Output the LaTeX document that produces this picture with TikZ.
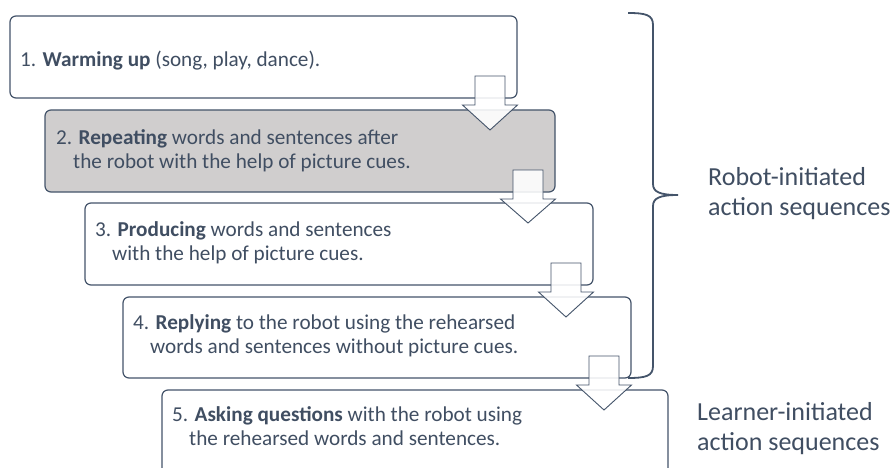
\documentclass[tikz,border=0pt]{standalone}
\usepackage{fontspec}
\setmainfont{Carlito}
\usetikzlibrary{calc}
\definecolor{slate}{RGB}{68,84,106}
\definecolor{txt}{RGB}{64,78,98}
\definecolor{boxgray}{RGB}{208,206,206}
\tikzset{
  stepbox/.style={draw=slate, line width=1.2pt, rounded corners=6pt, fill=white, anchor=north west, minimum height=82pt, inner sep=0pt, outer sep=0pt},
  steptext/.style={anchor=west, align=left, text=txt, inner sep=0pt, font=\fontsize{21.2}{23.8}\selectfont},
  sidetext/.style={anchor=west, align=left, text=txt, inner sep=0pt, font=\fontsize{26}{30}\selectfont},
  blockarrow/.style={draw=slate, line width=0.9pt, fill=white, fill opacity=0.88, line join=miter},
  bracestyle/.style={draw=slate, line width=1.8pt}
}
\newcommand{\blkarrow}[2]{%
  \coordinate (c) at ($(#1.south east)+(-27,0)$);
  \coordinate (t) at ($(#2.north -| c)+(0,20)$);
  \draw[blockarrow] ($(c)+(-15,-22)$) -- ($(c)+(15,-22)$) -- ($(c)+(15,7)$) -- ($(c)+(27.5,7)$) -- (t) -- ($(c)+(-27.5,7)$) -- ($(c)+(-15,7)$) -- cycle;
}
\newcommand{\indentline}{\hspace*{17pt}}
\begin{document}
\begin{tikzpicture}[x=1pt, y=-1pt]
\clip (0,0) rectangle (891,468);
\fill[white] (0,0) rectangle (891,468);

\node[stepbox, minimum width=507pt] (b1) at (10,16) {};
\node[stepbox, minimum width=510pt, fill=boxgray] (b2) at (45,110) {};
\blkarrow{b1}{b2}
\node[stepbox, minimum width=508pt] (b3) at (85,203) {};
\blkarrow{b2}{b3}
\node[stepbox, minimum width=508pt, minimum height=81pt] (b4) at (123,297) {};
\blkarrow{b3}{b4}
\node[stepbox, minimum width=506pt, minimum height=90pt] (b5) at (162,390) {};
\blkarrow{b4}{b5}

\node[steptext] (t1) at (20,61) {1. \textbf{Warming up} (song, play, dance).};
\node[steptext] (t2) at (56,151) {2. \textbf{Repeating} words and sentences after\\\indentline the robot with the help of picture cues.};
\node[steptext] (t3) at (95,243) {3. \textbf{Producing} words and sentences\\\indentline with the help of picture cues.};
\node[steptext] (t4) at (133,336) {4. \textbf{Replying} to the robot using the rehearsed\\\indentline words and sentences without picture cues.};
\node[steptext] (t5) at (172,426) {5. \textbf{Asking questions} with the robot using\\\indentline the rehearsed words and sentences.};

\draw[bracestyle] (628,13) .. controls (646,13) and (653,15) .. (653,25) -- (653,184)
  .. controls (653,192) and (660,195) .. (678,195)
  .. controls (660,195) and (653,198) .. (653,206) -- (653,366)
  .. controls (653,376) and (646,378) .. (628,378);

\node[sidetext] (r1) at (708,194) {Robot-initiated\\action sequences};
\node[sidetext] (r2) at (697,429) {Learner-initiated\\action sequences};
\end{tikzpicture}
\end{document}
